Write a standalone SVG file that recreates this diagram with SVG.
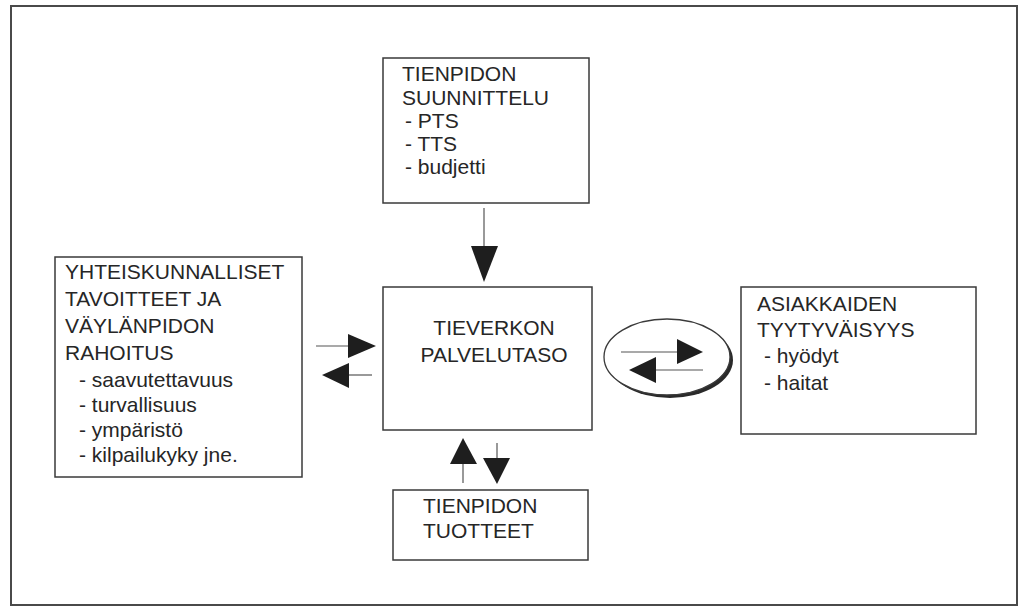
<svg xmlns="http://www.w3.org/2000/svg" width="1025" height="607" viewBox="0 0 1025 607">
<style>
.box{fill:#fff;stroke:#3a3a3a;stroke-width:1.5}
.t{font-family:"Liberation Sans",Arial,sans-serif;font-size:21px;fill:#262626}
.ln{stroke:#555;stroke-width:1.2;fill:none}
.hd{fill:#1e1e1e}
</style>
<rect x="0" y="0" width="1025" height="607" fill="#fff"/>
<rect x="11" y="6" width="1006" height="599" fill="none" stroke="#4a4a4a" stroke-width="2"/>
<g id="connectors">
  <line class="ln" x1="484" y1="208" x2="484" y2="247"/>
  <polygon class="hd" points="471,246 498,246 484,282"/>
  <line class="ln" x1="316" y1="346" x2="349" y2="346"/>
  <polygon class="hd" points="348,334 348,358 376,346"/>
  <line class="ln" x1="348" y1="375" x2="372" y2="375"/>
  <polygon class="hd" points="349,363 349,388 322,375"/>
  <line class="ln" x1="463" y1="483" x2="463" y2="463"/>
  <polygon class="hd" points="450,464 477,464 463,438"/>
  <line class="ln" x1="497" y1="443" x2="497" y2="459"/>
  <polygon class="hd" points="483,458 510,458 497,484"/>
</g>
<g id="exchange">
  <ellipse cx="670" cy="360" rx="63" ry="38" fill="#2a2a2a"/>
  <ellipse cx="667" cy="357" rx="63" ry="38" fill="#fff" stroke="#3a3a3a" stroke-width="1.3"/>
  <line class="ln" x1="621" y1="352" x2="678" y2="352"/>
  <polygon class="hd" points="677,339 677,364 703,352"/>
  <line class="ln" x1="655" y1="370" x2="703" y2="370"/>
  <polygon class="hd" points="656,357 656,383 629,370"/>
</g>
<g id="suunnittelu">
  <rect class="box" x="383" y="58" width="206" height="145"/>
  <text class="t" x="402" y="81">TIENPIDON</text>
  <text class="t" x="402" y="105">SUUNNITTELU</text>
  <text class="t" x="405" y="128">- PTS</text>
  <text class="t" x="405" y="151">- TTS</text>
  <text class="t" x="405" y="174">- budjetti</text>
</g>
<g id="tavoitteet">
  <rect class="box" x="55" y="257" width="247" height="220"/>
  <text class="t" x="65" y="279">YHTEISKUNNALLISET</text>
  <text class="t" x="65" y="306">TAVOITTEET JA</text>
  <text class="t" x="65" y="333">VÄYLÄNPIDON</text>
  <text class="t" x="65" y="360">RAHOITUS</text>
  <text class="t" x="79" y="387">- saavutettavuus</text>
  <text class="t" x="79" y="412">- turvallisuus</text>
  <text class="t" x="79" y="437">- ympäristö</text>
  <text class="t" x="79" y="462">- kilpailukyky jne.</text>
</g>
<g id="palvelutaso">
  <rect class="box" x="383" y="287" width="209" height="143"/>
  <text class="t" x="494" y="335" text-anchor="middle">TIEVERKON</text>
  <text class="t" x="494" y="362" text-anchor="middle">PALVELUTASO</text>
</g>
<g id="tuotteet">
  <rect class="box" x="393" y="490" width="195" height="70"/>
  <text class="t" x="423" y="513">TIENPIDON</text>
  <text class="t" x="423" y="538">TUOTTEET</text>
</g>
<g id="asiakkaat">
  <rect class="box" x="741" y="287" width="235" height="147"/>
  <text class="t" x="757" y="311">ASIAKKAIDEN</text>
  <text class="t" x="757" y="337">TYYTYVÄISYYS</text>
  <text class="t" x="764" y="363">- hyödyt</text>
  <text class="t" x="764" y="390">- haitat</text>
</g>
</svg>
